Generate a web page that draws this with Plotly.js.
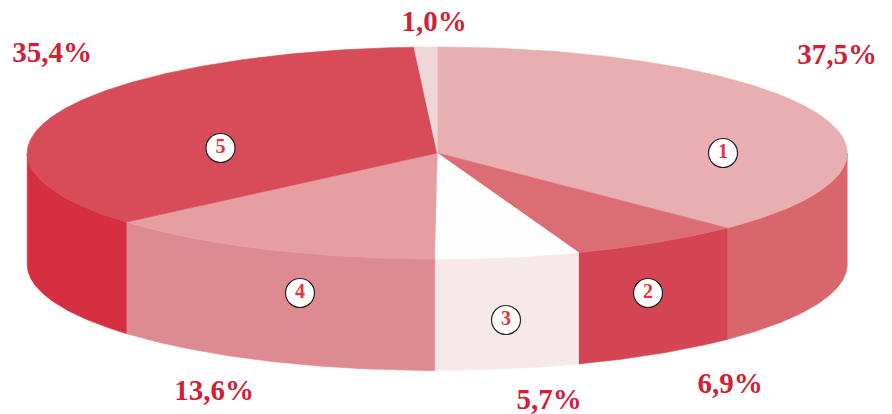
<!DOCTYPE html>
<html>
<head>
<meta charset="utf-8">
<script src="https://cdn.plot.ly/plotly-3.0.1.min.js"></script>
<style>html,body{margin:0;padding:0;background:#fff;overflow:hidden}#chart{width:892px;height:414px}</style>
</head>
<body>
<div id="chart"></div>
<script>
// Data
const sliceNumbers = ["1", "2", "3", "4", "5", ""];
const shares = [37.5, 6.9, 5.7, 13.6, 35.4, 1.0];
const shareLabels = ["37,5%", "6,9%", "5,7%", "13,6%", "35,4%", "1,0%"];

// Styles
const topColors  = ["#e8aeb2", "#dc6d75", "#fefefe", "#e59ea2", "#d74c58", "#f1d6d8"];
const sideColors = ["#d9666d", "#d44452", "#f7e9e9", "#de8a91", "#d62f42", "#f1d6d8"];
const labelColor = "#cf1f3a";

// Layout
const W = 892, H = 414;
const cx = 437.2, cy = 153, rx = 410, ry = 106, depth = 111.5;
const labelX = [837, 730, 549, 214, 52, 434];
const labelY = [57, 386, 402, 393, 55, 24];
const badgeX = [723, 648, 506, 300, 220.5];
const badgeY = [153, 293, 320, 293, 148];

const px = a => cx + rx * Math.sin(a * Math.PI / 180);
const py = a => cy + ry * -Math.cos(a * Math.PI / 180);

function arc(a0, a1) {
  const n = Math.max(2, Math.ceil(Math.abs(a1 - a0) * 2));
  const out = [];
  for (let i = 0; i <= n; i++) out.push(a0 + (a1 - a0) * i / n);
  return out;
}
const poly = (xs, ys, color) => ({
  type: "scatter", mode: "lines", x: xs, y: ys, fill: "toself", fillcolor: color,
  line: {color: color, width: 0.6}, hoverinfo: "skip", showlegend: false
});

const sides = [], tops = [];
let cum = 0;
shares.forEach((v, i) => {
  const a0 = cum * 3.6;
  cum += v;
  const a1 = Math.min(cum * 3.6, 360);
  // visible wall: front half of the disc only
  const s0 = Math.max(a0, 90), s1 = Math.min(a1, 270);
  if (s1 > s0) {
    const f = arc(s0, s1), b = f.slice().reverse();
    sides.push(poly(
      f.map(px).concat(b.map(px), [px(s0)]),
      f.map(a => py(a)).concat(b.map(a => py(a) + depth), [py(s0)]),
      sideColors[i]));
  }
  const t = arc(a0, a1);
  tops.push(poly(
    [cx].concat(t.map(px), [cx]),
    [cy].concat(t.map(py), [cy]),
    topColors[i]));
});

const labelTrace = {
  type: "scatter", mode: "text", x: labelX, y: labelY, text: shareLabels,
  textposition: "middle center", cliponaxis: false,
  textfont: {family: "Liberation Serif", size: 29, color: labelColor, weight: "bold"},
  hoverinfo: "skip", showlegend: false
};
const badgeTrace = {
  type: "scatter", mode: "markers+text", x: badgeX, y: badgeY, text: sliceNumbers.slice(0, 5),
  textposition: "middle center",
  marker: {size: 29, color: "#ffffff", line: {color: "#222222", width: 1.2}},
  textfont: {family: "Liberation Serif", size: 20, color: "#e23340", weight: "bold"},
  hoverinfo: "skip", showlegend: false
};

const hidden = {visible: false, fixedrange: true};
Plotly.newPlot("chart", sides.concat(tops, [labelTrace, badgeTrace]), {
  width: W, height: H, margin: {l: 0, r: 0, t: 0, b: 0},
  paper_bgcolor: "#ffffff", plot_bgcolor: "#ffffff", showlegend: false,
  xaxis: Object.assign({range: [0, W]}, hidden),
  yaxis: Object.assign({range: [H, 0]}, hidden)
}, {displayModeBar: false, staticPlot: true});
</script>
</body>
</html>
